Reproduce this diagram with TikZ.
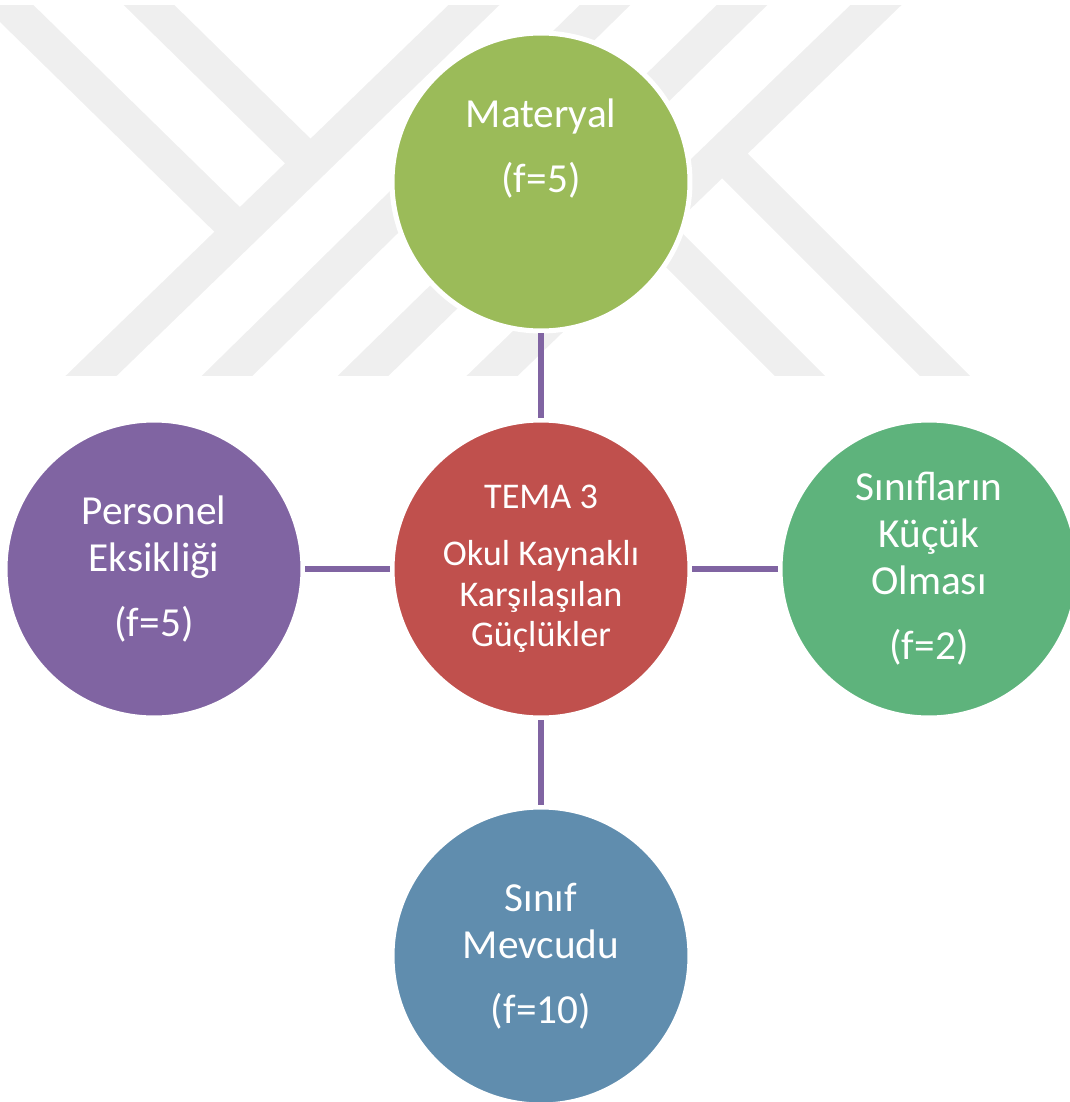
\documentclass[tikz,border=0pt]{standalone}
\usepackage{fontspec}
\setmainfont{Carlito}
\usepackage{tikz}
\usetikzlibrary{positioning}
\definecolor{temared}{HTML}{C0504D}
\definecolor{olivegreen}{HTML}{9BBB59}
\definecolor{seagreen}{HTML}{5EB37C}
\definecolor{steelblue}{HTML}{608DAE}
\definecolor{linkpurple}{HTML}{8064A2}
\definecolor{wmgray}{HTML}{EFEFEF}

\begin{document}
\begin{tikzpicture}[x=0.02cm, y=-0.02cm,
  bubble/.style={circle, draw=white, line width=0.1cm, minimum size=5.96cm, inner sep=0pt, text=white, align=center, font=\fontsize{23.5}{26.75}\selectfont},
  link/.style={draw=linkpurple, line width=0.12cm},
  wmband/.style={draw=wmgray, line width=0.71cm}]
\useasboundingbox (0,0) rectangle (1070,1102);
% faint logo in the background
\begin{scope}
\clip (0,5) rectangle (1070,375);
\draw[wmband, shorten <=-1cm, shorten >=-1cm] (92,375) -- (474,5);
\draw[wmband, shorten <=-1cm, shorten >=-1cm] (228,375) -- (605,5);
\draw[wmband, shorten <=-1cm, shorten >=-1cm] (364,375) -- (742,5);
\draw[wmband, shorten <=-1cm, shorten >=-1cm] (493,375) -- (876,5);
\draw[wmband, shorten <=-1cm] (8,5) -- (240,232);
\draw[wmband, shorten <=-1cm] (149,5) -- (310,163);
\draw[wmband, shorten <=-1cm] (944,375) -- (722,153);
\draw[wmband, shorten <=-1cm] (799,375) -- (584,160);
\end{scope}

\node[bubble, fill=temared, font=\fontsize{20.6}{23}\selectfont] at (541,569) (tema) {TEMA 3\\[0.33cm]Okul Kaynaklı\\Karşılaşılan\\Güçlükler};
\node[bubble, fill=olivegreen] at (541,182) (materyal) {Materyal\\[0.36cm](f=5)\\[0.5cm]\mbox{}};
\node[bubble, fill=linkpurple] at (154,569) (personel) {Personel\\Eksikliği\\[0.36cm](f=5)};
\node[bubble, fill=seagreen] at (929,569) (kucuk) {Sınıfların\\Küçük\\Olması\\[0.36cm](f=2)};
\node[bubble, fill=steelblue] at (541,956) (mevcut) {Sınıf\\Mevcudu\\[0.36cm](f=10)};

\draw[link] (materyal) -- (tema);
\draw[link] (personel) -- (tema);
\draw[link] (tema) -- (kucuk);
\draw[link] (tema) -- (mevcut);
\end{tikzpicture}
\end{document}
